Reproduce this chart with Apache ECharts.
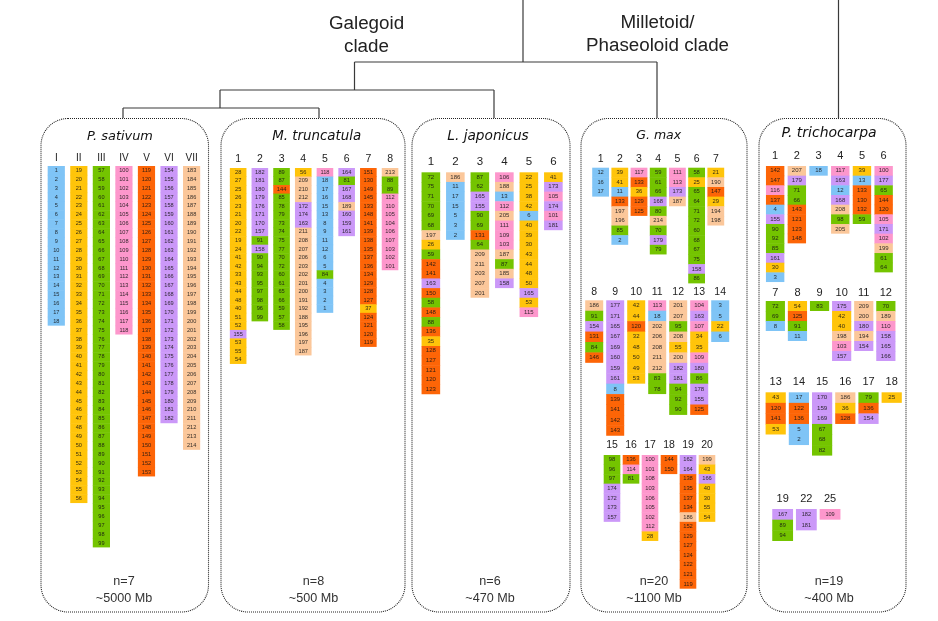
<!DOCTYPE html>
<html>
<head>
<meta charset="utf-8">
<style>html,body{margin:0;padding:0;background:#fff}#c{width:938px;height:621px}</style>
<script src="https://cdn.jsdelivr.net/npm/echarts@6/dist/echarts.min.js"></script>
</head>
<body>
<div id="c"></div>
<script>
// ---------- DATA ----------
const sativumLabels = ['I','II','III','IV','V','VI','VII'];
const sativumCols = [
 [1,2,3,4,5,6,7,8,9,10,11,12,13,14,15,16,17,18],
 [19,20,21,22,23,24,25,26,27,28,29,30,31,32,33,34,35,36,37,38,39,40,41,42,43,44,45,46,47,48,49,50,51,52,53,54,55,56],
 [57,58,59,60,61,62,63,64,65,66,67,68,69,70,71,72,73,74,75,76,77,78,79,80,81,82,83,84,85,86,87,88,89,90,91,92,93,94,95,96,97,98,99],
 [100,101,102,103,104,105,106,107,108,109,110,111,112,113,114,115,116,117,118],
 [119,120,121,122,123,124,125,126,127,128,129,130,131,132,133,134,135,136,137,138,139,140,141,142,143,144,145,146,147,148,149,150,151,152,153],
 [154,155,156,157,158,159,160,161,162,163,164,165,166,167,168,169,170,171,172,173,174,175,176,177,178,179,180,181,182],
 [183,184,185,186,187,188,189,190,191,192,193,194,195,196,197,198,199,200,201,202,203,204,205,206,207,208,209,210,211,212,213,214]
];
const truncatulaLabels = ['1','2','3','4','5','6','7','8'];
const truncatulaCols = [
 [28,27,25,26,23,21,20,22,19,24,41,42,33,43,44,48,40,51,52,155,53,55,54],
 [182,181,180,179,176,171,170,157,91,158,90,94,93,95,97,98,96,99],
 [89,87,144,85,78,79,73,74,75,77,70,72,60,61,65,66,59,57,58],
 [56,209,210,212,172,174,163,211,208,207,206,203,202,201,200,191,192,188,195,196,197,187],
 [118,18,17,16,15,13,8,9,11,12,6,5,84,4,3,2,1],
 [164,81,167,168,189,160,159,161],
 [151,130,149,145,133,148,141,139,138,135,137,136,134,129,128,127,37,124,121,120,119],
 [213,88,89,112,110,105,104,106,107,103,102,101]
];
const japonicusLabels = ['1','2','3','4','5','6'];
const japonicusCols = [
 [72,75,71,70,69,68,197,26,59,142,141,163,150,58,148,88,136,35,128,127,121,120,123],
 [186,11,17,15,5,3,2],
 [87,62,165,155,90,69,131,64,209,211,203,207,201],
 [106,188,13,112,205,111,109,103,187,87,185,158],
 [22,25,38,42,6,40,39,30,43,44,48,50,165,53,115],
 [41,173,105,174,101,181]
];
const maxALabels = ['1','2','3','4','5','6','7'];
const maxACols = [
 [12,16,17],
 [39,41,11,133,197,196,85,2],
 [117,133,36,129,125],
 [59,61,66,168,80,214,70,179,79],
 [111,113,173,187],
 [58,25,65,64,71,72,60,68,67,75,158,86],
 [21,190,147,29,194,198]
];
const maxBLabels = ['8','9','10','11','12','13','14'];
const maxBCols = [
 [186,91,154,131,84,146],
 [177,171,165,167,169,160,159,161,8,139,141,142,143],
 [42,44,120,32,48,50,49,53],
 [113,18,202,206,208,211,212,83,78],
 [201,207,95,208,55,200,182,181,94,92,90],
 [104,163,107,34,35,109,180,86,178,155,125],
 [3,5,22,6]
];
const maxCLabels = ['15','16','17','18','19','20'];
const maxCCols = [
 [98,96,97,174,172,173,157],
 [136,114,81],
 [100,101,108,103,106,105,102,112,28],
 [144,150],
 [162,164,138,135,137,134,186,152,129,127,124,122,121,119],
 [199,43,166,40,30,55,54]
];
const triALabels = ['1','2','3','4','5','6'];
const triACols = [
 [142,147,116,137,4,155,90,92,85,161,30,3],
 [207,179,71,66,143,121,123,148],
 [18],
 [117,163,12,168,208,98,205],
 [39,13,133,130,132,59],
 [100,177,65,144,120,105,171,102,199,61,64]
];
const triBLabels = ['7','8','9','10','11','12'];
const triBCols = [
 [72,69,8],
 [54,125,91,11],
 [83],
 [175,42,40,198,103,157],
 [209,200,180,194,154],
 [70,189,110,158,165,166]
];
const triCLabels = ['13','14','15','16','17','18'];
const triCCols = [
 [43,120,141,53],
 [17,122,136,5,2],
 [170,159,169,67,68,82],
 [186,36,128],
 [79,136,154],
 [25]
];
const triDLabels = ['19','22','25'];
const triDCols = [
 [167,89,94],
 [182,181],
 [109]
];
const cladeTitles = ['Galegoid','clade','Milletoid/','Phaseoloid clade'];
const speciesNames = ['P. sativum','M. truncatula','L. japonicus','G. max','P. trichocarpa'];
const chromosomeCounts = ['n=7','n=8','n=6','n=20','n=19'];
const genomeSizes = ['~5000 Mb','~500 Mb','~470 Mb','~1100 Mb','~400 Mb'];
// upper bound of each ancestral block and its colour
const blockEnds = [18,56,99,118,153,182,214];
const blockColors = ['#7fc4f6','#ffc40a','#74c400','#fd97cc','#fd6507','#cb98f8','#fbc79a'];

// ---------- LAYOUT ----------
const groups = [
 {labels:sativumLabels,cols:sativumCols,left:45,top:166,band:22.55,rowH:8.87,w:17.2,font:5.6,head:10,margin:2.5},
 {labels:truncatulaLabels,cols:truncatulaCols,left:227.3,top:168,band:21.7,rowH:8.52,w:16.6,font:5.7,head:10.5,margin:3},
 {labels:japonicusLabels,cols:japonicusCols,left:418.6,top:172.3,band:24.5,rowH:9.65,w:18.6,font:6,head:11.5,margin:4.5},
 {labels:maxALabels,cols:maxACols,left:591,top:167.7,band:19.2,rowH:9.64,w:16.8,font:5.8,head:10.5,margin:3},
 {labels:maxBLabels,cols:maxBCols,left:583.7,top:300.3,band:21,rowH:10.42,w:18,font:6,head:10.5,margin:2.5},
 {labels:maxCLabels,cols:maxCCols,left:602.5,top:455,band:19,rowH:9.55,w:16.6,font:5.8,head:10.5,margin:4.5},
 {labels:triALabels,cols:triACols,left:764.3,top:166,band:21.7,rowH:9.67,w:18.4,font:6,head:11,margin:4.5},
 {labels:triBLabels,cols:triBCols,left:764.3,top:301,band:22.1,rowH:10,w:19.2,font:6,head:11,margin:3},
 {labels:triCLabels,cols:triCCols,left:764.1,top:392.3,band:23.2,rowH:10.55,w:20.2,font:6.2,head:11,margin:4.5},
 {labels:triDLabels,cols:triDCols,left:770.8,top:509,band:23.7,rowH:10.67,w:20.8,font:5.6,head:11,margin:4.5}
];
const panels = [
 {x:41,w:167.5,r:27,titleX:120,titleY:136.7,titleSize:12.9,footX:124},
 {x:221,w:184,r:27,titleX:316.7,titleY:137,titleSize:13.4,footX:313.5},
 {x:412,w:158,r:27,titleX:488,titleY:136.7,titleSize:13.7,footX:490},
 {x:581,w:166,r:27,titleX:658.7,titleY:135.7,titleSize:12.5,footX:654},
 {x:759,w:147,r:27,titleX:829,titleY:133,titleSize:14,footX:829}
];
const panelTop = 118.5, panelBottom = 612;
const treeSegments = [
 [523,0,523,62],[354.5,62,657,62],[657,62,657,118],[354.5,62,354.5,90],
 [220,90,494,90],[494,90,494,118],[220,90,220,108],[123,108,319,108],
 [123,108,123,118],[319,108,319,118],[838.5,0,838.5,118]
];

function colorOf(v){ return blockColors[blockEnds.findIndex(e => v <= e)]; }

const grids=[], xAxes=[], yAxes=[], series=[];
groups.forEach((g,i)=>{
  const nRows = Math.max(...g.cols.map(c=>c.length));
  grids.push({left:g.left,top:g.top,width:g.band*g.cols.length,height:g.rowH*nRows});
  xAxes.push({type:'category',gridIndex:i,position:'top',data:g.labels,
    axisLine:{show:false},axisTick:{show:false},splitLine:{show:false},
    axisLabel:{margin:g.margin,fontSize:g.head,color:'#222',fontFamily:'Liberation Sans',interval:0}});
  yAxes.push({type:'value',gridIndex:i,min:0,max:nRows,inverse:true,show:false});
  const data=[];
  g.cols.forEach((col,c)=>col.forEach((v,r)=>data.push([c,r,v,r===col.length-1?1:0])));
  series.push({type:'custom',xAxisIndex:i,yAxisIndex:i,coordinateSystem:'cartesian2d',silent:true,
    encode:{x:0,y:1},data,clip:false,
    renderItem:(params,api)=>{
      const p=api.coord([api.value(0),api.value(1)]);
      const h=api.size([0,1])[1];
      const v=api.value(2), last=api.value(3);
      return {type:'group',children:[
        {type:'rect',shape:{x:p[0]-g.w/2,y:p[1],width:g.w,height:h+(last?0:0.5)},style:{fill:colorOf(v)}},
        {type:'text',z2:5,style:{x:p[0],y:p[1]+h/2,text:String(v),align:'center',verticalAlign:'middle',
          fontSize:g.font,fontFamily:'Liberation Sans',fill:'rgba(20,20,20,0.88)'}}
      ]};
    }});
});

const graphic=[];
treeSegments.forEach(s=>graphic.push({type:'line',shape:{x1:s[0],y1:s[1],x2:s[2],y2:s[3]},style:{stroke:'#3a3a3a',lineWidth:1.2}}));
panels.forEach((p,i)=>{
  graphic.push({type:'rect',shape:{x:p.x,y:panelTop,width:p.w,height:panelBottom-panelTop,r:p.r},
    style:{fill:'none',stroke:'#222',lineWidth:1.1,lineDash:[1,1]}});
  graphic.push({type:'text',style:{x:p.titleX,y:p.titleY,text:speciesNames[i],align:'center',verticalAlign:'middle',
    font:'italic '+p.titleSize+'px "DejaVu Sans"',fill:'#111'}});
  graphic.push({type:'text',style:{x:p.footX,y:581.7,text:chromosomeCounts[i],align:'center',verticalAlign:'middle',
    font:'12.6px "Liberation Sans"',fill:'#333'}});
  graphic.push({type:'text',style:{x:p.footX,y:599,text:genomeSizes[i],align:'center',verticalAlign:'middle',
    font:'12.6px "Liberation Sans"',fill:'#333'}});
});
[[366.5,24,0],[366.5,47,1],[657.5,23,2],[657.5,46,3]].forEach(t=>graphic.push({type:'text',
  style:{x:t[0],y:t[1],text:cladeTitles[t[2]],align:'center',verticalAlign:'middle',font:'18.8px "Liberation Sans"',fill:'#222'}}));

const chart=echarts.init(document.getElementById('c'));
chart.setOption({animation:false,backgroundColor:'#fff',grid:grids,xAxis:xAxes,yAxis:yAxes,series,graphic});
</script>
</body>
</html>
